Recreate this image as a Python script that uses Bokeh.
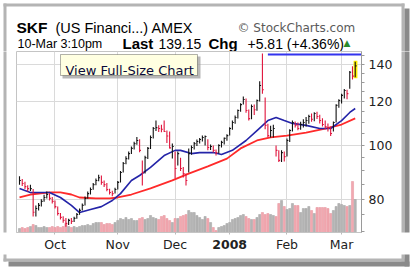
from bokeh.plotting import figure
from bokeh.layouts import column, row
from bokeh.models import (ColumnDataSource, FixedTicker, Range1d, LinearScale, Label,
                          BoxAnnotation, PrintfTickFormatter, LinearAxis)
from bokeh.core.properties import value
from bokeh.embed import file_html
from bokeh.resources import INLINE

# ---------------- data ----------------
close = [86.5, 85.4, 84.3, 83.6, 83.6, 75.8, 77.0, 78.0, 79.3, 80.6,
         81.6, 80.3, 79.3, 77.6, 75.4, 74.2, 73.3, 72.4, 73.3, 73.0,
         73.9, 75.1, 76.4, 78.0, 80.3, 81.9, 83.3, 85.0, 86.5, 87.5,
         85.8, 85.0, 83.3, 82.3, 81.9, 83.3, 85.8, 89.4, 92.8, 94.7,
         96.7, 98.8, 100.8, 102.1, 98.0, 89.4, 95.1, 98.8, 103.4, 107.3,
         107.7, 107.3, 107.0, 106.0, 104.0, 99.0, 99.6, 90.9, 96.7, 90.9,
         89.0, 86.5, 96.7, 99.2, 100.8, 101.7, 102.5, 103.4, 103.8, 99.2,
         99.6, 98.0, 97.1, 100.0, 101.3, 103.0, 104.2, 107.3, 110.0, 112.3,
         115.6, 118.5, 121.0, 115.6, 111.8, 117.6, 116.0, 120.5, 128.3, 126.0,
         108.7, 104.2, 106.4, 107.3, 98.0, 94.0, 97.1, 95.5, 102.1, 106.4,
         110.0, 108.7, 107.3, 109.1, 110.0, 110.9, 112.8, 111.5, 114.2, 112.8,
         110.9, 109.1, 108.2, 107.3, 105.1, 110.0, 118.1, 120.5, 123.1, 125.6,
         124.0, 135.5, 133.34, 139.15]
high = [88.0, 87.0, 86.0, 84.8, 85.0, 83.5, 78.0, 78.8, 80.0, 81.5,
        82.6, 82.0, 80.8, 79.6, 77.6, 75.6, 74.6, 74.0, 73.8, 74.0,
        74.4, 75.6, 77.0, 78.6, 80.9, 82.6, 84.0, 85.6, 87.2, 88.6,
        88.3, 86.5, 85.6, 83.6, 82.9, 83.9, 86.3, 90.0, 93.4, 95.6,
        97.5, 99.6, 101.6, 103.6, 102.6, 94.0, 95.8, 99.4, 104.2, 108.0,
        110.9, 108.8, 109.0, 110.9, 106.4, 106.0, 100.8, 97.5, 97.5, 95.0,
        91.5, 89.0, 98.8, 100.0, 101.5, 102.5, 103.2, 104.2, 104.2, 102.6,
        100.4, 100.0, 98.4, 100.5, 102.0, 103.4, 104.8, 107.9, 110.9, 113.3,
        116.1, 119.1, 122.5, 121.5, 116.1, 118.5, 118.5, 121.0, 130.5, 146.5,
        122.0, 109.5, 108.5, 109.0, 100.0, 98.0, 98.0, 97.5, 103.0, 107.0,
        110.9, 110.5, 110.0, 110.4, 111.5, 112.6, 113.6, 114.2, 114.8, 115.0,
        113.6, 112.0, 110.9, 109.6, 108.2, 110.5, 118.7, 121.2, 124.0, 126.4,
        126.0, 136.2, 139.0, 141.5]
low = [85.0, 84.5, 83.5, 82.6, 82.8, 74.5, 74.5, 76.4, 77.6, 79.2,
       80.3, 79.6, 78.6, 77.0, 74.8, 73.6, 72.6, 71.4, 71.9, 72.2,
       72.8, 73.8, 75.0, 76.4, 78.0, 80.2, 81.6, 83.2, 84.8, 86.2,
       85.0, 84.2, 82.7, 81.6, 81.0, 81.9, 83.3, 85.8, 89.4, 92.5,
       94.4, 96.5, 98.4, 100.3, 97.2, 84.7, 89.0, 94.6, 98.6, 103.0,
       106.2, 105.8, 105.6, 105.8, 101.0, 98.8, 94.7, 87.2, 92.0, 90.0,
       87.6, 84.7, 89.4, 96.2, 98.4, 99.8, 100.8, 101.7, 100.0, 98.0,
       98.2, 97.1, 95.9, 96.7, 99.2, 100.4, 102.0, 104.2, 106.8, 109.5,
       111.8, 115.0, 118.5, 114.5, 110.9, 111.5, 113.5, 115.5, 120.0, 124.0,
       107.0, 103.5, 103.4, 103.4, 95.5, 93.4, 93.4, 93.6, 95.5, 101.5,
       106.0, 107.8, 106.5, 106.8, 107.8, 108.2, 109.4, 110.4, 110.6, 111.6,
       109.6, 108.2, 107.0, 106.0, 104.0, 106.0, 110.0, 117.0, 119.0, 121.5,
       121.2, 126.5, 131.5, 132.8]
volume = [240, 300, 240, 300, 360, 480, 420, 300, 300, 360,
          300, 300, 360, 300, 360, 300, 360, 540, 360, 300,
          360, 300, 360, 420, 420, 480, 420, 540, 600, 600,
          600, 480, 540, 540, 480, 600, 720, 840, 780, 900,
          780, 840, 720, 720, 840, 900, 780, 840, 1020, 900,
          840, 780, 960, 1020, 840, 720, 600, 840, 840, 960,
          1020, 1080, 1320, 1200, 1200, 1020, 900, 780, 960, 840,
          600, 300, 120, 300, 360, 420, 540, 600, 780, 840,
          900, 1020, 1080, 960, 840, 780, 780, 900, 1080, 1200,
          1080, 1140, 1080, 1020, 960, 1740, 1920, 1560, 1380, 1440,
          1740, 1620, 1620, 1200, 1440, 1440, 1560, 1320, 1140, 1500,
          1500, 1500, 1500, 1440, 1140, 1320, 1560, 1740, 1680, 1620,
          1560, 1620, 3060, 1980]   # thousands of shares

blue_ma_idx = [0, 4, 11, 15, 19, 22, 26, 30, 34, 37, 41, 44, 48, 53, 57, 59, 63, 66, 71, 74,
               78, 83, 87, 91, 94, 97, 100, 105, 110, 114, 118, 121, 123]
blue_ma = [83.7, 82.3, 82.3, 80.6, 78.0, 75.7, 76.7, 77.6, 79.6, 81.9, 86.5, 88.3, 91.3, 95.9,
           98.0, 98.0, 96.7, 97.1, 97.1, 96.3, 98.0, 102.1, 106.4, 110.9, 112.3, 110.9, 109.6,
           108.7, 107.3, 107.3, 110.9, 114.7, 116.6]
red_ma_idx = [0, 4, 11, 15, 19, 22, 28, 33, 36, 41, 48, 56, 62, 69, 76, 81, 87, 92, 98, 105,
              112, 118, 123]
red_ma = [80.6, 81.6, 82.3, 82.3, 81.6, 80.6, 80.3, 80.3, 80.6, 81.6, 83.7, 86.5, 89.0, 91.7,
          94.7, 98.8, 102.1, 103.4, 104.2, 105.5, 107.3, 109.1, 111.9]

high_line_value = 145.9
high_line_start = 91

month_idx = [13, 36, 57, 77, 98, 118]
month_labels = ["Oct", "Nov", "Dec", "2008", "Feb", "Mar"]
y_ticks = [80, 100, 120, 140]
y_minor = [70, 75, 85, 90, 95, 105, 110, 115, 125, 130, 135, 145]

header_line1 = ["SKF", "(US Financi...) AMEX", "\u00a9 StockCharts.com"]
header_line2 = ["10-Mar 3:10pm", "Last", "139.15", "Chg", "+5.81 (+4.36%)", "\u25b2"]
tooltip_text = "View Full-Size Chart"

# ---------------- styling ----------------
W, H = 411, 270
UP, DOWN = "#111111", "#e0143c"
VUP, VDOWN = "#b4b4b4", "#f2a8b0"
FONT = "DejaVu Sans"
ARIAL = "Liberation Sans"

n = len(close)
idx = list(range(n))
is_down = [False] + [close[i] < close[i - 1] for i in range(1, n)]
bar_col = [DOWN if d else UP for d in is_down]
vol_col = [VDOWN if d else VUP for d in is_down]
vol_line = ["#e4909a" if d else "#a0a0a0" for d in is_down]

src = ColumnDataSource(dict(x=idx, xr=[i + 0.5 for i in idx], h=high, l=low, c=close,
                            v=volume, col=bar_col, vcol=vol_col, vline=vol_line))

# ---------------- decoration helpers (page pixel coordinates) ----------------
FRAME = "#b4b4b4"
SHADOW = "#8a8a8a"
frame_quads = dict(
    left=[3, 3, 3, 401, 404, 8],
    right=[404, 404, 6, 404, 409, 409],
    top=[3, 258, 3, 3, 8, 261],
    bottom=[6, 261, 261, 261, 266, 266],
    color=[FRAME, FRAME, FRAME, FRAME, SHADOW, SHADOW],
)


def deco_fig(w, h, x0, y0):
    f = figure(width=w, height=h, x_range=Range1d(x0, x0 + w), y_range=Range1d(y0 + h, y0),
               x_axis_location=None, y_axis_location=None, output_backend="svg",
               toolbar_location=None, min_border=0, min_border_left=0, min_border_right=0,
               min_border_top=0, min_border_bottom=0)
    f.outline_line_color = None
    f.grid.visible = False
    f.background_fill_color = "white"
    f.border_fill_color = "white"
    f.quad(left="left", right="right", top="top", bottom="bottom", fill_color="color",
           line_color=None, source=ColumnDataSource(frame_quads))
    return f


# ---------------- header ----------------
head = deco_fig(W, 51, 0, 0)
head.text(x=[16], y=[27], text=[header_line1[0]], text_font=value(ARIAL),
          text_font_size=value("15.5px"), text_font_style="bold", text_baseline="alphabetic",
          text_color="#000000")
head.text(x=[55], y=[27], text=[header_line1[1]], text_font=value(ARIAL),
          text_font_size=value("14.5px"), text_baseline="alphabetic", text_color="#000000")
head.text(x=[237], y=[27], text=[header_line1[2]], text_font=value(FONT),
          text_font_size=value("12px"), text_baseline="alphabetic", text_color="#5a5a5a")
head.text(x=[17], y=[43], text=[header_line2[0]], text_font=value(ARIAL),
          text_font_size=value("12.5px"), text_baseline="alphabetic", text_color="#000000")
head.text(x=[122, 208], y=[43, 43], text=[header_line2[1], header_line2[3]], text_font=value(ARIAL),
          text_font_size=value("15px"), text_font_style="bold", text_baseline="alphabetic",
          text_color="#000000")
head.text(x=[158, 247], y=[43, 43], text=[header_line2[2], header_line2[4]], text_font=value(ARIAL),
          text_font_size=value("14px"), text_baseline="alphabetic", text_color="#000000")
head.text(x=[343], y=[42], text=[header_line2[5]], text_font=value(FONT),
          text_font_size=value("9px"), text_baseline="alphabetic", text_color="#2a8a2a")

# ---------------- chart ----------------
p = figure(width=382, height=203, x_range=Range1d(-1.1, 125.3), y_range=Range1d(69.7, 147.7),
           y_axis_type="log", y_axis_location="right", x_axis_location=None,
           output_backend="svg", toolbar_location=None,
           min_border_left=0, min_border_right=37, min_border_top=0, min_border_bottom=22)
p.extra_y_ranges = {"vol": Range1d(0, 10860)}
p.extra_y_scales = {"vol": LinearScale()}
p.background_fill_color = "white"
p.border_fill_color = "white"
p.outline_line_color = "#c4c4c4"

xa = LinearAxis(ticker=FixedTicker(ticks=month_idx),
                major_label_overrides={m: (lab if lab != "2008" else "") for m, lab in zip(month_idx, month_labels)},
                major_label_text_font=FONT, major_label_text_font_size="12.5px",
                major_label_text_color="#222222", axis_line_color="#c4c4c4",
                major_tick_line_color="#bbbbbb", major_tick_out=2, major_tick_in=0,
                minor_tick_line_color=None, major_label_standoff=2)
p.add_layout(xa, "below")
xa2 = LinearAxis(ticker=FixedTicker(ticks=[month_idx[3]]),
                 major_label_overrides={month_idx[3]: month_labels[3]},
                 major_label_text_font=FONT, major_label_text_font_size="12.5px",
                 major_label_text_font_style="bold", major_label_text_color="#222222",
                 axis_line_color=None, major_tick_line_color=None, major_tick_out=0,
                 major_tick_in=0, minor_tick_line_color=None, major_label_standoff=-15)
p.add_layout(xa2, "below")

p.xgrid.ticker = FixedTicker(ticks=month_idx)
p.ygrid.ticker = FixedTicker(ticks=y_ticks)
p.xgrid.grid_line_color = "#dadada"
p.ygrid.grid_line_color = "#dadada"

p.yaxis.ticker = FixedTicker(ticks=y_ticks, minor_ticks=y_minor)
p.yaxis.formatter = PrintfTickFormatter(format="%d")
p.yaxis.major_label_text_font = FONT
p.yaxis.major_label_text_font_size = "12.5px"
p.yaxis.major_label_text_color = "#222222"
p.yaxis.axis_line_color = "#9a9a9a"
p.yaxis.major_tick_line_color = "#9a9a9a"
p.yaxis.minor_tick_line_color = "#9a9a9a"
p.yaxis.major_tick_out = 3
p.yaxis.major_tick_in = 0
p.yaxis.minor_tick_out = 3
p.yaxis.minor_tick_in = 0
p.yaxis.major_label_standoff = 4

# volume
p.vbar(x="x", top="v", bottom=0, width=0.78, source=src, y_range_name="vol",
       fill_color="vcol", line_color="vline", line_width=0.5)

# moving averages
p.line(red_ma_idx, red_ma, line_color="#ff2a2a", line_width=1.8)
p.line(blue_ma_idx, blue_ma, line_color="#2424a8", line_width=1.6)

# HLC bars
p.segment(x0="x", x1="x", y0="l", y1="h", source=src, line_color="col", line_width=1.1)
p.segment(x0="x", x1="xr", y0="c", y1="c", source=src, line_color="col", line_width=1.1)

# high line
p.segment(x0=[high_line_start], x1=[130], y0=[high_line_value], y1=[high_line_value],
          line_color="#3333ee", line_width=2)

# highlight last bar
p.add_layout(BoxAnnotation(left=n - 1.6, right=n - 0.2, bottom=low[-1] * 0.995, top=high[-1] * 1.005,
                           fill_color="#ffee00", fill_alpha=1, line_color=None, level="underlay"))


def cbox(l, t, r, b, fill, line=None, lw=1, alpha=1.0):
    # page pixel coords -> chart canvas coords (chart canvas starts at page x=16, y=51)
    p.add_layout(BoxAnnotation(left=l - 16, right=r - 16, top=t - 51, bottom=b - 51,
                               left_units="canvas", right_units="canvas",
                               top_units="canvas", bottom_units="canvas",
                               fill_color=fill, fill_alpha=alpha, line_color=line, line_width=lw))


# tooltip
cbox(62, 56, 200, 78, "#9a9a9a", alpha=0.7)
cbox(60, 54, 197, 75, "#ffffe1", line="#000000", lw=1)
p.add_layout(Label(x=65 - 16, y=70 - 51, x_units="canvas", y_units="canvas", text=tooltip_text,
                   text_font=FONT, text_font_size="13px", text_color="#0a0a3a",
                   text_baseline="alphabetic"))

# ---------------- frame strips ----------------
left = deco_fig(16, 203, 0, 51)
right = deco_fig(13, 203, 398, 51)
bottom = deco_fig(W, 16, 0, 254)

layout = column(head, row(left, p, right), bottom)

open("out.html", "w").write(file_html(layout, INLINE))
